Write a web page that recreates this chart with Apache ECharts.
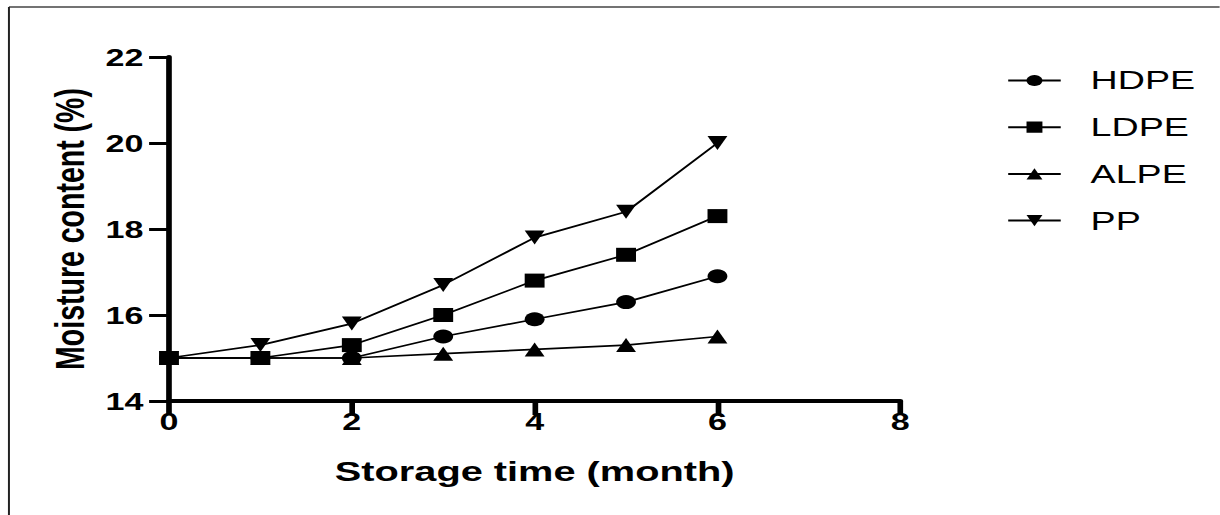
<!DOCTYPE html>
<html>
<head>
<meta charset="utf-8">
<script src="https://cdn.jsdelivr.net/npm/echarts@6/dist/echarts.min.js"></script>
<style>
  html, body { margin: 0; padding: 0; background: #fff; overflow: hidden; }
  #outer { width: 1220px; height: 515px; position: relative; overflow: hidden; }
  #chart { width: 859px; height: 515px; transform: scaleX(1.42); transform-origin: 0 0; position: absolute; left: 0; top: 0; }
</style>
</head>
<body>
<div id="outer"><div id="chart"></div></div>
<script>
// ---- data ----
const months = [0, 1, 2, 3, 4, 5, 6];
const seriesNames = ['HDPE', 'LDPE', 'ALPE', 'PP'];
const hdpe = [15, 15, 15, 15.5, 15.9, 16.3, 16.9];
const ldpe = [15, 15, 15.3, 16, 16.8, 17.4, 18.3];
const alpe = [15, 15, 15, 15.1, 15.2, 15.3, 15.5];
const pp   = [15, 15.3, 15.8, 16.7, 17.8, 18.4, 20.0];
const xTicks = [0, 2, 4, 6, 8];
const yTicks = [14, 16, 18, 20, 22];
const xTitle = 'Storage time (month)';
const yTitle = 'Moisture content (%)';

const FONT = '"Liberation Sans", Arial, Helvetica, sans-serif';
const pairs = arr => months.map((m, i) => [m, arr[i]]);

const chart = echarts.init(document.getElementById('chart'), null, { renderer: 'svg' });

function mk(name, data, symbol, size, z) {
  return {
    name, type: 'line', data: pairs(data), symbol, symbolSize: size, z,
    lineStyle: { color: '#000', width: 1.7 },
    itemStyle: { color: '#000' },
    animation: false
  };
}

const option = {
  backgroundColor: '#fff',
  animation: false,
  grid: { left: 119, right: 225, top: 57, bottom: 114, containLabel: false },
  xAxis: {
    type: 'value', min: xTicks[0], max: xTicks[xTicks.length - 1], interval: 2,
    name: xTitle, nameLocation: 'middle', nameGap: 56,
    nameTextStyle: { fontFamily: FONT, fontWeight: 'bold', fontSize: 28, color: '#000' },
    axisLine: { lineStyle: { color: '#000', width: 4 } },
    axisTick: { show: true, length: 14, lineStyle: { color: '#000', width: 4 } },
    axisLabel: { fontFamily: FONT, fontWeight: 'bold', fontSize: 24, color: '#000', margin: 8 },
    splitLine: { show: false }
  },
  yAxis: {
    type: 'value', min: yTicks[0], max: yTicks[yTicks.length - 1], interval: 2,
    name: yTitle, nameLocation: 'middle', nameGap: 55, nameRotate: 90,
    nameTextStyle: { fontFamily: FONT, fontWeight: 'bold', fontSize: 28.5, color: '#000' },
    axisLine: { show: true, lineStyle: { color: '#000', width: 4 } },
    axisTick: { show: true, length: 14, lineStyle: { color: '#000', width: 3 } },
    axisLabel: { fontFamily: FONT, fontWeight: 'bold', fontSize: 24, color: '#000', margin: 18 },
    splitLine: { show: false }
  },
  legend: {
    orient: 'vertical', left: 704, top: 62,
    data: seriesNames,
    itemWidth: 37, itemHeight: 14, itemGap: 19.7,
    textStyle: { fontFamily: FONT, fontSize: 26.5, color: '#000', padding: [0, 0, 0, 16] }
  },
  graphic: [
    { type: 'line', shape: { x1: 6.3, y1: 7, x2: 859, y2: 7 }, style: { stroke: '#444', lineWidth: 1.6 } },
    { type: 'line', shape: { x1: 6.3, y1: 7, x2: 6.3, y2: 515 }, style: { stroke: '#222', lineWidth: 1.4 } }
  ],
  series: [
    mk('HDPE', hdpe, 'circle', 14, 2),
    mk('ALPE', alpe, 'triangle', 14, 3),
    mk('PP', pp, 'path://M0,0 L10,0 L5,10 Z', 14, 4),
    mk('LDPE', ldpe, 'rect', 14, 5)
  ]
};
chart.setOption(option);
</script>
</body>
</html>
